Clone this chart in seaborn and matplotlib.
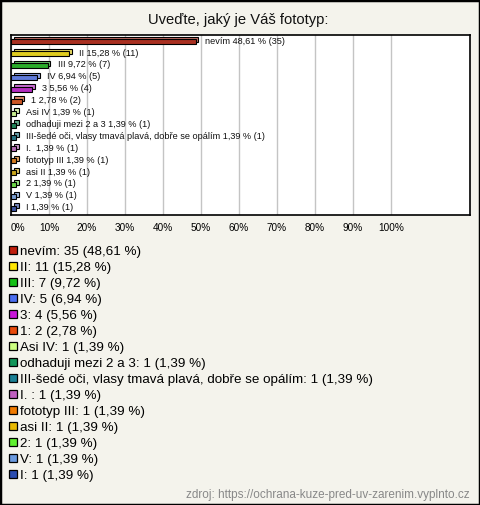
import matplotlib
matplotlib.use("Agg")
import matplotlib.pyplot as plt
import matplotlib.transforms as mtransforms
from matplotlib.patches import Patch, Rectangle
from matplotlib.colors import to_rgb
import seaborn as sns
import pandas as pd

title = "Uveďte, jaký je Váš fototyp:"
source = "zdroj: https://ochrana-kuze-pred-uv-zarenim.vyplnto.cz"

categories = ["nevím", "II", "III", "IV", "3", "1", "Asi IV", "odhaduji mezi 2 a 3",
              "III-šedé oči, vlasy tmavá plavá, dobře se opálím", "I. ", "fototyp III",
              "asi II", "2", "V", "I"]
counts = [35, 11, 7, 5, 4, 2, 1, 1, 1, 1, 1, 1, 1, 1, 1]
percents = [48.61, 15.28, 9.72, 6.94, 5.56, 2.78, 1.39, 1.39, 1.39, 1.39, 1.39,
            1.39, 1.39, 1.39, 1.39]
colors = ["#bf1e0b", "#ffe600", "#15c015", "#4a6ef0", "#c815d8", "#e84a0a", "#ccff80",
          "#12965a", "#1a8094", "#c060c0", "#f07a00", "#e8b800", "#60f030", "#6a9ae0",
          "#2a4cb0"]
xticks = [0, 10, 20, 30, 40, 50, 60, 70, 80, 90, 100]

plt.rcParams["font.family"] = ["Liberation Sans", "DejaVu Sans"]

W, H = 480, 505
fig = plt.figure(figsize=(W / 100, H / 100), dpi=100)
fig.patch.set_facecolor("#f4f3ec")
fig.patches.append(Rectangle((0, 0), 1, 1, transform=fig.transFigure, fill=False,
                             edgecolor="black", linewidth=2.5))

ax = fig.add_axes([10.5 / W, 1 - 215 / H, 459.5 / W, 180 / H])
ax.set_facecolor("white")

df = pd.DataFrame({"cat": categories, "pct": percents, "n": counts})


def lighten(c, f=0.3):
    r, g, b = to_rgb(c)
    return (r + (1 - r) * f, g + (1 - g) * f, b + (1 - b) * f)


light = [lighten(c) for c in colors]

# back (3D depth) layer
sns.barplot(data=df, x="pct", y="cat", hue="cat", palette=light, orient="h",
            width=0.42, edgecolor="black", linewidth=0.8, legend=False, ax=ax,
            dodge=False)
nback = len(ax.patches)
offset = mtransforms.ScaledTranslation(2.5 / 100, 2.5 / 100, fig.dpi_scale_trans)
for p in ax.patches[:nback]:
    p.set_transform(ax.transData + offset)

# front layer
sns.barplot(data=df, x="pct", y="cat", hue="cat", palette=colors, orient="h",
            width=0.42, edgecolor="black", linewidth=0.8, legend=False, ax=ax,
            dodge=False)

for i, (c, p, n) in enumerate(zip(categories, percents, counts)):
    ps = f"{p:.2f}".replace(".", ",")
    ax.annotate(f"{c} {ps} % ({n})", xy=(p, i), xytext=(7, 0.5),
                textcoords="offset points", ha="left", va="center", fontsize=6.6,
                color="#111111")

ax.set_xlim(-0.15, 120.8)
ax.set_ylim(len(categories) - 0.45, -0.58)
ax.set_xticks(xticks)
ax.set_xticklabels([f"{t}%" for t in xticks], fontsize=7.2)
ax.get_xticklabels()[0].set_ha("left")
ax.tick_params(axis="x", length=0, pad=6)
ax.set_yticks([])
ax.set_xlabel("")
ax.set_ylabel("")
ax.grid(axis="x", color="#c4c4c4", linewidth=1)
ax.set_axisbelow(True)
for s in ax.spines.values():
    s.set_color("black")
    s.set_linewidth(1.2)

fig.text(238 / W, 1 - 20 / H, title, ha="center", va="center", fontsize=10.6,
         color="#111111")

handles = [Patch(facecolor=col, edgecolor="black", linewidth=0.9) for col in colors]
labels = [f"{c}: {n} ({f'{p:.2f}'.replace('.', ',')} %)"
          for c, p, n in zip(categories, percents, counts)]
fig.legend(handles, labels, loc="upper left", bbox_to_anchor=(8.5 / W, 1 - 245.5 / H),
           frameon=False, fontsize=9.6, handlelength=0.62, handleheight=0.62,
           handletextpad=0.22, labelspacing=0.30, borderpad=0, borderaxespad=0)

fig.text(470 / W, 1 - 495 / H, source, ha="right", va="center", fontsize=8.5,
         color="#888888")

fig.savefig("out.png", dpi=100, facecolor=fig.get_facecolor())
